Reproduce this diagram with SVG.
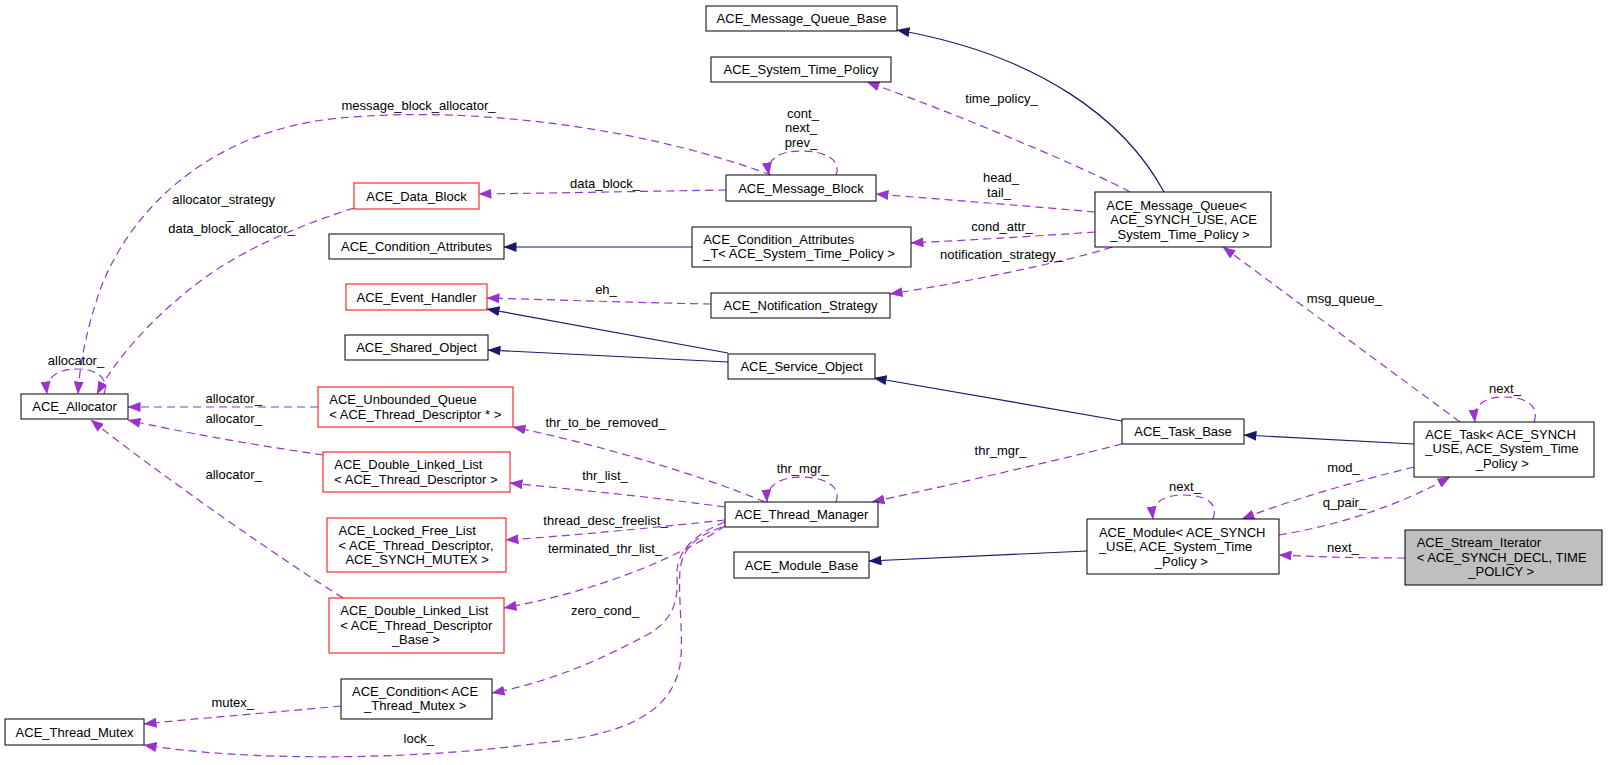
<svg xmlns="http://www.w3.org/2000/svg" width="1608" height="765" viewBox="0 0 1608 765">
<defs>
<style>
text{font-family:"Liberation Sans",Arial,Helvetica,sans-serif;font-size:13px;fill:#000}
.n rect{fill:#fff;stroke:#000;stroke-width:1}
.r rect{stroke:#ff0000}
.g rect{fill:#bfbfbf}
.c{text-anchor:middle}
.e{fill:none;stroke:#9a32cd;stroke-width:1.2;stroke-dasharray:8,5;marker-end:url(#ap)}
.s{fill:none;stroke:#191970;stroke-width:1.2;marker-end:url(#ab)}
</style>
<marker id="ap" viewBox="0 0 13 10" refX="12.5" refY="5" markerWidth="13" markerHeight="10" markerUnits="userSpaceOnUse" orient="auto"><path d="M0,0 L13,5 L0,10 z" fill="#9a32cd"/></marker>
<marker id="ab" viewBox="0 0 13 10" refX="12.5" refY="5" markerWidth="13" markerHeight="10" markerUnits="userSpaceOnUse" orient="auto"><path d="M0,0 L13,5 L0,10 z" fill="#191970"/></marker>
</defs>
<rect width="1608" height="765" fill="#fff"/>

<g id="connectors">
<path class="s" d="M1164,192 C1125,120 1040,55 897,30"/>
<path class="s" d="M692,247 L504,247"/>
<path class="s" d="M728,353 L487,309"/>
<path class="s" d="M728,362 L488,350"/>
<path class="s" d="M1122,421 L874,378"/>
<path class="s" d="M1414,444 L1244,435"/>
<path class="s" d="M1087,551 L869,561"/>

<path class="e" d="M1130,192 C1090,170 960,115 867,82"/>
<text class="c" x="1001.5" y="103">time_policy_</text>
<path class="e" d="M1095,212 C1040,207 950,200 876,194"/>
<text class="c" x="1001" y="181.7">head_</text>
<text class="c" x="999" y="196.5">tail_</text>
<path class="e" d="M1095,232 C1040,236 970,240 911,243"/>
<text class="c" x="1002" y="230.7">cond_attr_</text>
<path class="e" d="M1112,247 C1080,258 980,280 890,294"/>
<text class="c" x="1001.5" y="258.5">notification_strategy_</text>
<path class="e" d="M1460,422 L1223,247"/>
<text class="c" x="1344.4" y="302.7">msg_queue_</text>
<path class="e" d="M726,190 C660,191 560,193 479,194"/>
<text class="c" x="605" y="187.7">data_block_</text>
<path class="e" d="M771,175 C650,130 480,105 340,118 C210,130 130,210 100,290 C88,325 80,360 78,394"/>
<text class="c" x="418.5" y="109.5">message_block_allocator_</text>
<path class="e" d="M836,175 C842,160 825,151 802,151 C780,151 766,158 769,175"/>
<text class="c" x="803" y="117.5">cont_</text>
<text class="c" x="801" y="132">next_</text>
<text class="c" x="801" y="146.5">prev_</text>
<path class="e" d="M354,208 C300,225 240,250 195,285 C150,320 115,360 97,394"/>
<text x="172.3" y="204.3">allocator_strategy</text>
<text x="226.7" y="218.5">_</text>
<text x="168.3" y="233">data_block_allocator_</text>
<path class="e" d="M711,304 C650,303 560,300 487,298"/>
<text class="c" x="606" y="294">eh_</text>
<path class="e" d="M104,394 C110,378 96,369 77,369 C58,369 45,377 47,394"/>
<text class="c" x="76" y="365">allocator_</text>
<path class="e" d="M318,407 L128,407"/>
<text class="c" x="233.7" y="402.7">allocator_</text>
<path class="e" d="M323,455 C260,446 180,432 128,420"/>
<text class="c" x="233.7" y="422.7">allocator_</text>
<path class="e" d="M343,598 C290,565 160,475 91,420"/>
<text class="c" x="233.7" y="479.3">allocator_</text>
<path class="e" d="M765,502 C700,475 600,445 513,427"/>
<text class="c" x="605.5" y="426.7">thr_to_be_removed_</text>
<path class="e" d="M725,507 C660,498 580,490 510,483"/>
<text class="c" x="605" y="480">thr_list_</text>
<path class="e" d="M836,502 C842,487 825,477 802,477 C780,477 766,485 767,502"/>
<text class="c" x="802.7" y="472.7">thr_mgr_</text>
<path class="e" d="M1122,444 C1050,462 950,485 872,502"/>
<text class="c" x="1000.6" y="455">thr_mgr_</text>
<path class="e" d="M725,520 C660,527 580,535 506,540"/>
<text class="c" x="605.5" y="524.5">thread_desc_freelist_</text>
<path class="e" d="M725,526 C705,540 630,585 504,608"/>
<text class="c" x="605" y="552.7">terminated_thr_list_</text>
<path class="e" d="M725,522 C700,532 676,548 677,575 C678,600 675,620 645,636 C600,660 550,682 492,693"/>
<text class="c" x="605" y="615">zero_cond_</text>
<path class="e" d="M722,527 C700,535 683,545 680,570 C678,600 684,640 680,665 C672,710 630,735 540,743 C420,760 250,762 144,745"/>
<text class="c" x="418.7" y="742.7">lock_</text>
<path class="e" d="M341,706 C280,712 200,718 144,724"/>
<text class="c" x="232.7" y="706.7">mutex_</text>
<path class="e" d="M1534,422 C1540,405 1525,397 1504,397 C1484,397 1473,405 1475,422"/>
<text class="c" x="1505" y="393.3">next_</text>
<path class="e" d="M1414,467 C1360,480 1290,500 1242,519"/>
<text class="c" x="1343.5" y="471.7">mod_</text>
<path class="e" d="M1213,519 C1219,502 1204,495 1184,495 C1164,495 1151,502 1153,519"/>
<text class="c" x="1185" y="490.7">next_</text>
<path class="e" d="M1279,535 C1340,525 1400,505 1450,477"/>
<text class="c" x="1344.5" y="506.7">q_pair_</text>
<path class="e" d="M1405,558 C1360,558 1320,557 1279,555"/>
<text class="c" x="1343" y="551.7">next_</text>
</g>

<g id="n_mqbase" class="n"><rect x="706" y="6" width="191" height="25"/><text class="c" x="801.5" y="23">ACE_Message_Queue_Base</text></g>
<g id="n_stp" class="n"><rect x="711" y="57" width="180" height="25"/><text class="c" x="801" y="74">ACE_System_Time_Policy</text></g>
<g id="n_mb" class="n"><rect x="726" y="175" width="150" height="26"/><text class="c" x="801" y="192.5">ACE_Message_Block</text></g>
<g id="n_cat" class="n"><rect x="692" y="227" width="219" height="40"/><text x="703.2" y="243.5">ACE_Condition_Attributes</text><text x="703.2" y="257.7">_T&lt; ACE_System_Time_Policy &gt;</text></g>
<g id="n_ns" class="n"><rect x="711" y="293" width="179" height="25"/><text class="c" x="800.5" y="310">ACE_Notification_Strategy</text></g>
<g id="n_so" class="n"><rect x="728" y="354" width="147" height="25"/><text class="c" x="801.5" y="371">ACE_Service_Object</text></g>
<g id="n_tm" class="n"><rect x="725" y="502" width="153" height="25"/><text class="c" x="801.5" y="519">ACE_Thread_Manager</text></g>
<g id="n_mbase" class="n"><rect x="734" y="552" width="135" height="26"/><text class="c" x="801.5" y="569.5">ACE_Module_Base</text></g>
<g id="n_mq" class="n"><rect x="1095" y="192" width="176" height="55"/><text x="1106.3" y="209.5">ACE_Message_Queue&lt;</text><text x="1110.3" y="224">ACE_SYNCH_USE, ACE</text><text x="1110.3" y="238.5">_System_Time_Policy &gt;</text></g>
<g id="n_task" class="n"><rect x="1414" y="422" width="180" height="55"/><text x="1425.2" y="438.5">ACE_Task&lt; ACE_SYNCH</text><text x="1425.2" y="453">_USE, ACE_System_Time</text><text x="1475.7" y="467.5">_Policy &gt;</text></g>
<g id="n_tb" class="n"><rect x="1122" y="419" width="122" height="25"/><text class="c" x="1183" y="436">ACE_Task_Base</text></g>
<g id="n_mod" class="n"><rect x="1087" y="519" width="192" height="55"/><text x="1098.9" y="536.7">ACE_Module&lt; ACE_SYNCH</text><text x="1098.9" y="551">_USE, ACE_System_Time</text><text x="1154.8" y="565.7">_Policy &gt;</text></g>
<g id="n_si" class="n g"><rect x="1405" y="530" width="197" height="55"/><text x="1416.7" y="547">ACE_Stream_Iterator</text><text x="1416.7" y="561.5">&lt; ACE_SYNCH_DECL, TIME</text><text x="1468.3" y="576">_POLICY &gt;</text></g>
<g id="n_db" class="n r"><rect x="354" y="183" width="125" height="26"/><text class="c" x="416.5" y="200.5">ACE_Data_Block</text></g>
<g id="n_ca" class="n"><rect x="329" y="234" width="175" height="25"/><text class="c" x="416.5" y="251">ACE_Condition_Attributes</text></g>
<g id="n_eh" class="n r"><rect x="346" y="284" width="141" height="26"/><text class="c" x="416.5" y="301.5">ACE_Event_Handler</text></g>
<g id="n_sho" class="n"><rect x="345" y="335" width="143" height="25"/><text class="c" x="416.5" y="352">ACE_Shared_Object</text></g>
<g id="n_alloc" class="n"><rect x="21" y="394" width="107" height="25"/><text class="c" x="74.5" y="411">ACE_Allocator</text></g>
<g id="n_uq" class="n r"><rect x="318" y="387" width="195" height="40"/><text x="329.3" y="404">ACE_Unbounded_Queue</text><text x="329.3" y="418.5">&lt; ACE_Thread_Descriptor * &gt;</text></g>
<g id="n_dll1" class="n r"><rect x="323" y="452" width="187" height="40"/><text x="334.3" y="469">ACE_Double_Linked_List</text><text x="334.3" y="483.5">&lt; ACE_Thread_Descriptor &gt;</text></g>
<g id="n_lfl" class="n r"><rect x="327" y="518" width="179" height="54"/><text x="338.5" y="535">ACE_Locked_Free_List</text><text x="338.5" y="549.5">&lt; ACE_Thread_Descriptor,</text><text x="345.4" y="564">ACE_SYNCH_MUTEX &gt;</text></g>
<g id="n_dll2" class="n r"><rect x="329" y="598" width="175" height="55"/><text x="340.3" y="615">ACE_Double_Linked_List</text><text x="340.3" y="629.5">&lt; ACE_Thread_Descriptor</text><text x="391.9" y="644">_Base &gt;</text></g>
<g id="n_cond" class="n"><rect x="341" y="679" width="151" height="40"/><text x="352" y="696">ACE_Condition&lt; ACE</text><text x="364" y="710">_Thread_Mutex &gt;</text></g>
<g id="n_mutex" class="n"><rect x="5" y="719" width="139" height="26"/><text class="c" x="74.5" y="736.5">ACE_Thread_Mutex</text></g>
</svg>
